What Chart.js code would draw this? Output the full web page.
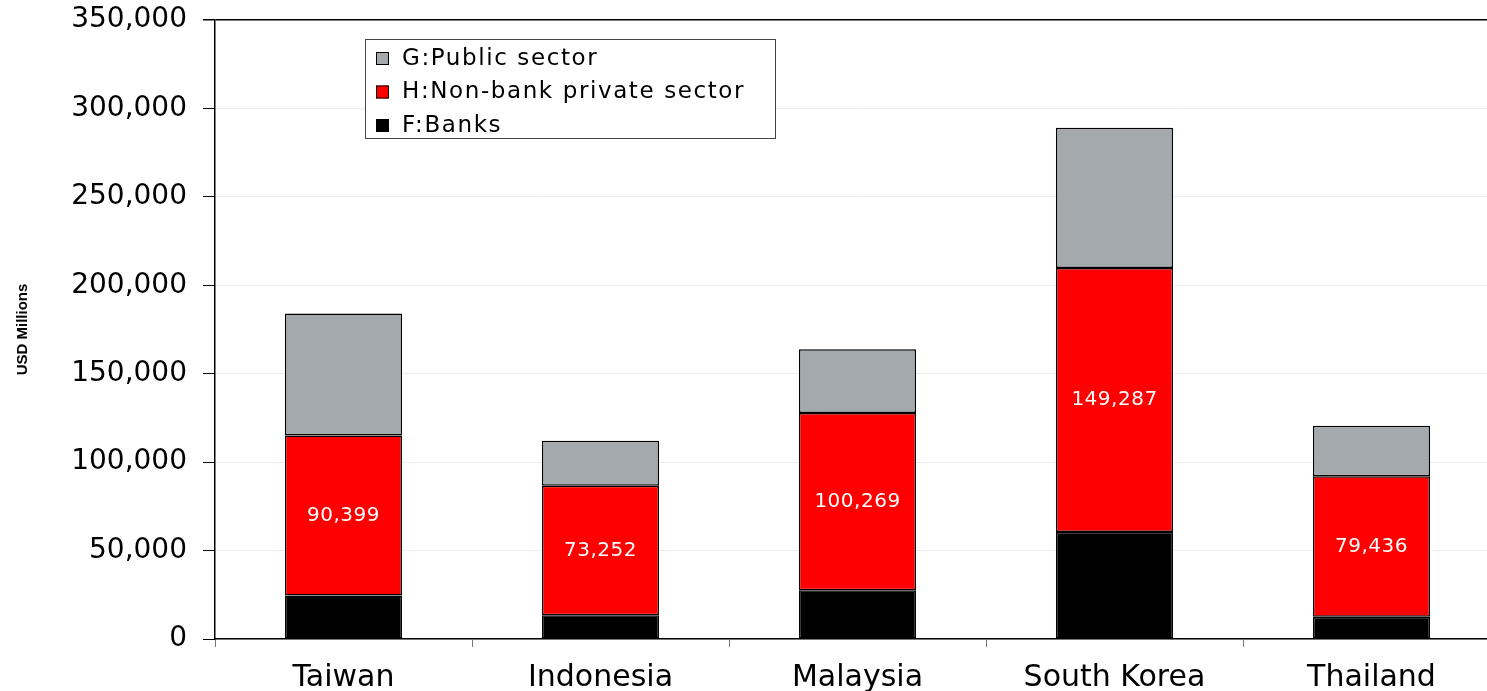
<!DOCTYPE html>
<html>
<head>
<meta charset="utf-8">
<script src="https://cdn.jsdelivr.net/npm/chart.js@4/dist/chart.umd.min.js"></script>
<style>
  html, body { margin: 0; padding: 0; background: #fff; overflow: hidden; }
  #wrap { width: 1487px; height: 691px; overflow: hidden; position: relative; }
  canvas { display: block; }
</style>
</head>
<body>
<div id="wrap"><canvas id="c" width="1500" height="691"></canvas></div>
<script>
// Countries on the x axis
const countries = ['Taiwan', 'Indonesia', 'Malaysia', 'South Korea', 'Thailand'];

// Liabilities by sector, USD millions
const banks = [24600, 13400, 27500, 60500, 12650];
const nonBankPrivate = [90399, 73252, 100269, 149287, 79436];
const publicSector = [69000, 25450, 36100, 79250, 28500];

// Y axis ticks
const yTicks = [0, 50000, 100000, 150000, 200000, 250000, 300000, 350000];

const seriesLabels = ['F:Banks', 'H:Non-bank private sector', 'G:Public sector'];
const seriesColors = ['#000000', '#ff0000', '#a4a9ae'];

const numFmt = v => v.toLocaleString('en-US');

// White value labels centred inside the non-bank segments
const segmentLabels = {
  id: 'segmentLabels',
  afterDatasetsDraw(chart) {
    const ctx = chart.ctx;
    const meta = chart.getDatasetMeta(1);
    ctx.save();
    ctx.fillStyle = '#ffffff';
    ctx.font = '20px "DejaVu Sans"';
    ctx.letterSpacing = '0.5px';
    ctx.textAlign = 'center';
    ctx.textBaseline = 'middle';
    meta.data.forEach((bar, i) => {
      const mid = (bar.y + bar.base) / 2;
      ctx.fillText(numFmt(chart.data.datasets[1].data[i]), bar.x, mid);
    });
    ctx.restore();
  }
};

// Boxed legend inside the plot, top series listed first
const boxedLegend = {
  id: 'boxedLegend',
  afterDraw(chart) {
    const ctx = chart.ctx;
    const x0 = 365, y0 = 39, w = 410, h = 99;
    ctx.save();
    ctx.fillStyle = '#ffffff';
    ctx.fillRect(x0, y0, w, h);
    ctx.strokeStyle = '#444';
    ctx.lineWidth = 1;
    ctx.strokeRect(x0 + 0.5, y0 + 0.5, w, h);
    const items = chart.data.datasets.slice().reverse();
    ctx.font = '23px "DejaVu Sans"';
    ctx.letterSpacing = '1.6px';
    ctx.textBaseline = 'middle';
    items.forEach((ds, i) => {
      const cy = y0 + 19 + i * 33.5;
      ctx.fillStyle = ds.backgroundColor;
      ctx.fillRect(x0 + 11, cy - 6, 13, 13);
      ctx.strokeStyle = '#000';
      ctx.lineWidth = 1;
      ctx.strokeRect(x0 + 11.5, cy - 5.5, 12, 12);
      ctx.fillStyle = '#000';
      ctx.fillText(ds.label, x0 + 37, cy + 1);
    });
    ctx.restore();
  }
};

const datasets = [banks, nonBankPrivate, publicSector].map((d, i) => ({
  label: seriesLabels[i],
  data: d,
  backgroundColor: seriesColors[i],
  borderColor: '#000000',
  borderWidth: 1.5,
  borderSkipped: false,
  barPercentage: 0.456,
  categoryPercentage: 1.0
}));

new Chart(document.getElementById('c'), {
  type: 'bar',
  data: { labels: countries, datasets },
  options: {
    responsive: false,
    animation: false,
    devicePixelRatio: 1,
    layout: { padding: { top: 20, right: 0, left: 0, bottom: 0 } },
    plugins: {
      legend: { display: false },
      tooltip: { enabled: false }
    },
    scales: {
      x: {
        stacked: true,
        afterFit(scale) { scale.height = 52; },
        grid: {
          offset: true,
          drawOnChartArea: false,
          tickLength: 8,
          tickColor: '#777'
        },
        border: { display: true, color: '#000', width: 1.5 },
        ticks: {
          color: '#000',
          padding: 13,
          font: { family: '"DejaVu Sans"', size: 30 }
        }
      },
      y: {
        stacked: true,
        min: 0,
        max: 350000,
        afterFit(scale) {
          scale.width = 215;
          scale.paddingTop = 0;
          scale.paddingBottom = 0;
        },
        afterBuildTicks(scale) { scale.ticks = yTicks.map(v => ({ value: v })); },
        grid: {
          color: c => (c.tick && c.tick.value === 350000) ? '#000' : '#ececec',
          lineWidth: c => (c.tick && c.tick.value === 350000) ? 1.5 : 1,
          tickColor: '#000',
          tickLength: 12
        },
        border: { display: true, color: '#000', width: 1.5 },
        ticks: {
          color: '#000',
          padding: 16,
          font: { family: '"DejaVu Sans"', size: 28 },
          callback: v => numFmt(v)
        },
        title: {
          display: true,
          text: 'USD Millions',
          color: '#000',
          padding: { top: 14, bottom: 0 },
          font: { family: '"Liberation Sans"', size: 15, weight: 'bold' }
        }
      }
    }
  },
  plugins: [segmentLabels, boxedLegend]
});
</script>
</body>
</html>
